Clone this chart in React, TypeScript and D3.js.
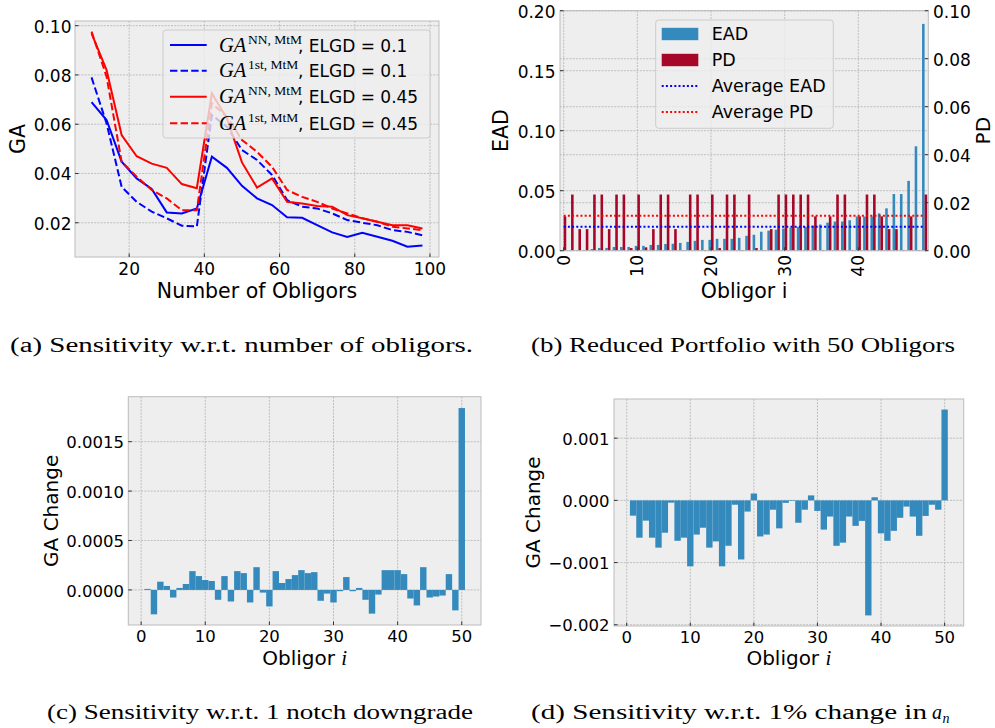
import React from "react";
import * as d3 from "d3";

// ---------- Data ----------
const obligorCounts = [10, 14, 18, 22, 26, 30, 34, 38, 42, 46, 50, 54, 58, 62, 66, 70, 74, 78, 82, 86, 90, 94, 98];
const gaNN_elgd010 = [0.069, 0.0617, 0.0448, 0.038, 0.0337, 0.0242, 0.0238, 0.0258, 0.0468, 0.0423, 0.035, 0.0299, 0.0272, 0.0222, 0.022, 0.019, 0.0161, 0.0142, 0.0159, 0.0143, 0.0127, 0.0103, 0.0108];
const ga1st_elgd010 = [0.079, 0.0603, 0.0346, 0.0285, 0.0245, 0.0218, 0.0188, 0.0185, 0.0637, 0.059, 0.0495, 0.0455, 0.0394, 0.0292, 0.0265, 0.0258, 0.0238, 0.0211, 0.02, 0.019, 0.017, 0.0163, 0.0149];
const gaNN_elgd045 = [0.0969, 0.082, 0.0556, 0.047, 0.044, 0.0423, 0.0357, 0.034, 0.0725, 0.0624, 0.0445, 0.0343, 0.038, 0.0285, 0.0278, 0.0268, 0.0265, 0.0231, 0.0218, 0.0204, 0.019, 0.019, 0.0177];
const ga1st_elgd045 = [0.0976, 0.0793, 0.0448, 0.0387, 0.0333, 0.0299, 0.0251, 0.0251, 0.0685, 0.063, 0.0536, 0.0488, 0.0427, 0.0333, 0.0305, 0.0285, 0.0258, 0.0238, 0.0218, 0.0204, 0.0184, 0.0177, 0.017];

const ead = [0.0002, 0.0003, 0.0004, 0.0006, 0.0014, 0.0023, 0.0023, 0.0031, 0.0031, 0.0031,
  0.004, 0.004, 0.0048, 0.0048, 0.0056, 0.0058, 0.0065, 0.0073, 0.0082, 0.009,
  0.009, 0.0099, 0.0099, 0.0099, 0.0107, 0.0124, 0.0133, 0.0158, 0.0167, 0.0175,
  0.0184, 0.0192, 0.0198, 0.0198, 0.0209, 0.0218, 0.0234, 0.0243, 0.0243, 0.0254,
  0.0285, 0.0285, 0.0285, 0.0311, 0.0353, 0.0472, 0.0472, 0.0582, 0.087, 0.189];
const pd = [0.0143, 0.0234, 0.009, 0.009, 0.0234, 0.0234, 0.009, 0.0234, 0.0234, 0.0011,
  0.0234, 0.0014, 0.009, 0.0234, 0.0234, 0.009, 0.0002, 0.0234, 0.0234, 0.0003,
  0.0234, 0.0011, 0.0234, 0.0234, 0.0003, 0.0234, 0.0011, 0.0002, 0.009, 0.0234,
  0.0234, 0.0234, 0.0234, 0.0234, 0.0143, 0.0003, 0.0143, 0.0234, 0.0234, 0.0003,
  0.0143, 0.0234, 0.0234, 0.0143, 0.009, 0.009, 0.0003, 0.0143, 0.0003, 0.0234];

const gaChangeDowngrade = [0.00001, -0.000247, 0.000083, 0.00004, -0.000077, 0.00002, 0.00006, 0.00019, 0.00014, 0.0001,
  0.00009, -0.0001, 0.00014, -0.000117, 0.00019, 0.00017, -0.000127, 0.00023, -0.000027, -0.000167,
  0.00019, 0.00007, 0.00011, 0.00015, 0.0002, 0.00017, 0.00018, -0.00011, -0.000037, -0.000127,
  -0.000013, 0.00013, -0.000013, 0.00002, -0.0001, -0.00024, -0.000047, 0.0002, 0.0002, 0.0002,
  0.00016, -0.000087, -0.000157, 0.00023, -0.000077, -0.000067, -0.000057, 0.00016, -0.000207, 0.00184];
const gaChangeA = [-0.000246, -0.0006, -0.000326, -0.0006, -0.00076, -0.00052, -0.000037, -0.00065, -0.0006, -0.00106,
  -0.00055, -0.00044, -0.00076, -0.00066, -0.00106, -0.00073, -0.00007, -0.00095, -0.00018, 0.00011,
  -0.00058, -0.00055, -0.00015, -0.00045, -0.00004, -0.00001, -0.00036, -0.00015, 0.00008, -0.00017,
  -0.00047, -0.00026, -0.00073, -0.00068, -0.00026, -0.00041, -0.00033, -0.00185, 0.00005, -0.00053,
  -0.00065, -0.00049, -0.00028, -0.0001, -0.00026, -0.00057, -0.00025, -0.00007, -0.00015, 0.00146];

const ticksA_x = [20, 40, 60, 80, 100];
const ticksA_y = [0.02, 0.04, 0.06, 0.08, 0.1];
const ticksB_x = [0, 10, 20, 30, 40];
const ticksB_yL = [0, 0.05, 0.1, 0.15, 0.2];
const ticksB_yR = [0, 0.02, 0.04, 0.06, 0.08, 0.1];
const ticksCD_x = [0, 10, 20, 30, 40, 50];
const ticksC_y = [0, 0.0005, 0.001, 0.0015];
const ticksD_y = [-0.002, -0.001, 0, 0.001];

// ---------- Style ----------
const FONT = "DejaVu Sans";
const SERIF = "Liberation Serif";
const BG = "#eeeeee";
const GRID = "#b2b2b2";
const EDGE = "#bcbcbc";
const BLUE_BAR = "#348ABD";
const RED_BAR = "#A60628";

function Frame({ l, r, t, b }: any) {
  return <rect x={l} y={t} width={r - l} height={b - t} fill="none" stroke={EDGE} strokeWidth={1} />;
}
function Bg({ l, r, t, b }: any) {
  return <rect x={l} y={t} width={r - l} height={b - t} fill={BG} />;
}
function GridV({ xs, t, b }: any) {
  return <g>{xs.map((x: number, i: number) => <line key={i} x1={x} x2={x} y1={t} y2={b} stroke={GRID} strokeWidth={0.8} strokeDasharray="2,1.2" />)}</g>;
}
function GridH({ ys, l, r }: any) {
  return <g>{ys.map((y: number, i: number) => <line key={i} x1={l} x2={r} y1={y} y2={y} stroke={GRID} strokeWidth={0.8} strokeDasharray="2,1.2" />)}</g>;
}

// ---------- Panel A ----------
function PanelA() {
  const L = 75, R = 439, T = 21, B = 257;
  const x = d3.scaleLinear().domain([5.6, 102.4]).range([L, R]);
  const y = d3.scaleLinear().domain([0.0061, 0.1019]).range([B, T]);
  const series = [
    { data: gaNN_elgd010, color: "#0000ff", dash: undefined, sup: "NN, MtM", elgd: "0.1" },
    { data: ga1st_elgd010, color: "#0000ff", dash: "7.4,3.2", sup: "1st, MtM", elgd: "0.1" },
    { data: gaNN_elgd045, color: "#ff0000", dash: undefined, sup: "NN, MtM", elgd: "0.45" },
    { data: ga1st_elgd045, color: "#ff0000", dash: "7.4,3.2", sup: "1st, MtM", elgd: "0.45" },
  ];
  const line = d3.line<number>().x((_, i) => x(obligorCounts[i])).y((v) => y(v));
  const rows = [45, 70.7, 96.7, 123.3];
  return (
    <g>
      <clipPath id="clipA"><rect x={L} y={T} width={R - L} height={B - T} /></clipPath>
      <Bg l={L} r={R} t={T} b={B} />
      <GridV xs={ticksA_x.map((v) => x(v))} t={T} b={B} />
      <GridH ys={ticksA_y.map((v) => y(v))} l={L} r={R} />
      <g clipPath="url(#clipA)">
        {series.map((s, i) => (
          <path key={i} d={line(s.data) || ""} fill="none" stroke={s.color} strokeWidth={2} strokeDasharray={s.dash} />
        ))}
      </g>
      <Frame l={L} r={R} t={T} b={B} />
      {ticksA_x.map((v, i) => (
        <g key={i}>
          <line x1={x(v)} x2={x(v)} y1={B} y2={B - 3.5} stroke="#333" />
          <text x={x(v)} y={275} textAnchor="middle" fontFamily={FONT} fontSize={17}>{v}</text>
        </g>
      ))}
      {ticksA_y.map((v, i) => (
        <g key={i}>
          <line x1={L} x2={L + 3.5} y1={y(v)} y2={y(v)} stroke="#333" />
          <text x={71.5} y={y(v) + 7} textAnchor="end" fontFamily={FONT} fontSize={17}>{v.toFixed(2)}</text>
        </g>
      ))}
      <text x={(L + R) / 2} y={297.5} textAnchor="middle" fontFamily={FONT} fontSize={20.5}>Number of Obligors</text>
      <text transform={`translate(25,${(T + B) / 2}) rotate(-90)`} textAnchor="middle" fontFamily={FONT} fontSize={20.5}>GA</text>
      <rect x={163} y={30} width={267} height={108} rx={3} fill={BG} fillOpacity={0.8} stroke="#cccccc" strokeWidth={1} />
      {series.map((s, i) => (
        <g key={i}>
          <line x1={170} x2={206.7} y1={rows[i]} y2={rows[i]} stroke={s.color} strokeWidth={2} strokeDasharray={s.dash} />
          <text y={rows[i] + 6.5}>
            <tspan x={219} fontFamily={SERIF} fontStyle="italic" fontSize={20.5}>GA</tspan>
            <tspan x={248} y={rows[i] - 1.5} fontFamily={SERIF} fontSize={13.5}>{s.sup}</tspan>
            <tspan x={298} y={rows[i] + 6.5} fontFamily={FONT} fontSize={17}>{`, ELGD = ${s.elgd}`}</tspan>
          </text>
        </g>
      ))}
    </g>
  );
}

// ---------- Panel B ----------
function PanelB() {
  const L = 560, R = 928.3, T = 10.7, B = 250.7;
  const x = d3.scaleLinear().domain([-0.5, 49.5]).range([L, R]);
  const yL = d3.scaleLinear().domain([0, 0.2]).range([B, T]);
  const yR = d3.scaleLinear().domain([0, 0.1]).range([B, T]);
  const w = 0.35;
  const avgEad = d3.mean(ead) as number;
  const avgPd = d3.mean(pd) as number;
  const idx = d3.range(ead.length);
  const rows = [34, 60, 86, 112];
  return (
    <g>
      <clipPath id="clipB"><rect x={L} y={T} width={R - L} height={B - T} /></clipPath>
      <Bg l={L} r={R} t={T} b={B} />
      <GridV xs={ticksB_x.map((v) => x(v))} t={T} b={B} />
      <GridH ys={ticksB_yL.map((v) => yL(v))} l={L} r={R} />
      <GridH ys={ticksB_yR.map((v) => yR(v))} l={L} r={R} />
      <g clipPath="url(#clipB)">
        {idx.map((i) => (
          <rect key={"e" + i} x={x(i - w)} width={x(i) - x(i - w)} y={yL(ead[i])} height={yL(0) - yL(ead[i])} fill={BLUE_BAR} />
        ))}
        {idx.map((i) => (
          <rect key={"p" + i} x={x(i)} width={x(i + w) - x(i)} y={yR(pd[i])} height={yR(0) - yR(pd[i])} fill={RED_BAR} />
        ))}
        <line x1={x(0)} x2={x(49)} y1={yL(avgEad)} y2={yL(avgEad)} stroke="#0000ff" strokeWidth={2} strokeDasharray="2,2.2" />
        <line x1={x(0)} x2={x(49)} y1={yR(avgPd)} y2={yR(avgPd)} stroke="#ff0000" strokeWidth={2} strokeDasharray="2,2.2" />
      </g>
      <Frame l={L} r={R} t={T} b={B} />
      {ticksB_x.map((v, i) => (
        <g key={i}>
          <line x1={x(v)} x2={x(v)} y1={B} y2={B - 3.5} stroke="#333" />
          <text transform={`translate(${x(v) + 6},255) rotate(-90)`} textAnchor="end" fontFamily={FONT} fontSize={17}>{v}</text>
        </g>
      ))}
      {ticksB_yL.map((v, i) => (
        <g key={i}>
          <line x1={L} x2={L + 3.5} y1={yL(v)} y2={yL(v)} stroke="#333" />
          <text x={555.5} y={yL(v) + 7} textAnchor="end" fontFamily={FONT} fontSize={17}>{v.toFixed(2)}</text>
        </g>
      ))}
      {ticksB_yR.map((v, i) => (
        <g key={i}>
          <line x1={R} x2={R - 3.5} y1={yR(v)} y2={yR(v)} stroke="#333" />
          <text x={933} y={yR(v) + 7} textAnchor="start" fontFamily={FONT} fontSize={17}>{v.toFixed(2)}</text>
        </g>
      ))}
      <text x={(L + R) / 2} y={297.5} textAnchor="middle" fontFamily={FONT} fontSize={20.5}>Obligor i</text>
      <text transform={`translate(508,${(T + B) / 2}) rotate(-90)`} textAnchor="middle" fontFamily={FONT} fontSize={20.5}>EAD</text>
      <text transform={`translate(989.5,${(T + B) / 2}) rotate(-90)`} textAnchor="middle" fontFamily={FONT} fontSize={20}>PD</text>
      <rect x={655.7} y={20} width={177.6} height={108.3} rx={3} fill={BG} fillOpacity={0.8} stroke="#cccccc" strokeWidth={1} />
      <rect x={661.7} y={rows[0] - 6.2} width={36.6} height={12.4} fill={BLUE_BAR} />
      <rect x={661.7} y={rows[1] - 6.2} width={36.6} height={12.4} fill={RED_BAR} />
      <line x1={661.7} x2={698.3} y1={rows[2]} y2={rows[2]} stroke="#0000ff" strokeWidth={2} strokeDasharray="2,2.2" />
      <line x1={661.7} x2={698.3} y1={rows[3]} y2={rows[3]} stroke="#ff0000" strokeWidth={2} strokeDasharray="2,2.2" />
      {["EAD", "PD", "Average EAD", "Average PD"].map((t, i) => (
        <text key={i} x={711.7} y={rows[i] + 6.3} fontFamily={FONT} fontSize={17.5}>{t}</text>
      ))}
    </g>
  );
}

// ---------- Panels C & D ----------
function ChangePanel({ L, R, T, B, yDomain, yTicks, values, fmt, labelX, tickLabelRight, id }: any) {
  const x = d3.scaleLinear().domain([-2, 53]).range([L, R]);
  const y = d3.scaleLinear().domain(yDomain).range([B, T]);
  return (
    <g>
      <clipPath id={id}><rect x={L} y={T} width={R - L} height={B - T} /></clipPath>
      <Bg l={L} r={R} t={T} b={B} />
      <GridV xs={ticksCD_x.map((v) => x(v))} t={T} b={B} />
      <GridH ys={yTicks.map((v: number) => y(v))} l={L} r={R} />
      <g clipPath={`url(#${id})`}>
        {values.map((v: number, i: number) => {
          const n = i + 1;
          return (
            <rect key={i} x={x(n - 0.5)} width={x(n + 0.5) - x(n - 0.5)} y={Math.min(y(v), y(0))} height={Math.abs(y(v) - y(0))} fill={BLUE_BAR} />
          );
        })}
      </g>
      <Frame l={L} r={R} t={T} b={B} />
      {ticksCD_x.map((v, i) => (
        <g key={i}>
          <line x1={x(v)} x2={x(v)} y1={B} y2={B - 3.5} stroke="#333" />
          <text x={x(v)} y={B + 16.5} textAnchor="middle" fontFamily={FONT} fontSize={16.5}>{v}</text>
        </g>
      ))}
      {yTicks.map((v: number, i: number) => (
        <g key={i}>
          <line x1={L} x2={L + 3.5} y1={y(v)} y2={y(v)} stroke="#333" />
          <text x={tickLabelRight} y={y(v) + 6.6} textAnchor="end" fontFamily={FONT} fontSize={16.5}>{fmt(v)}</text>
        </g>
      ))}
      <text x={(L + R) / 2} y={665} textAnchor="middle" fontFamily={FONT} fontSize={20}>
        Obligor <tspan fontFamily={SERIF} fontStyle="italic" fontSize={21}>i</tspan>
      </text>
      <text transform={`translate(${labelX},${(T + B) / 2}) rotate(-90)`} textAnchor="middle" fontFamily={FONT} fontSize={20}>GA Change</text>
    </g>
  );
}

function Captions() {
  const fs = 20;
  return (
    <g fontFamily={SERIF} fontSize={fs} fill="#000">
      <text x={10} y={352} textLength={463} lengthAdjust="spacingAndGlyphs">(a) Sensitivity w.r.t. number of obligors.</text>
      <text x={531} y={352} textLength={424} lengthAdjust="spacingAndGlyphs">(b) Reduced Portfolio with 50 Obligors</text>
      <text x={47} y={719} textLength={426} lengthAdjust="spacingAndGlyphs">(c) Sensitivity w.r.t. 1 notch downgrade</text>
      <text x={531} y={719} textLength={396} lengthAdjust="spacingAndGlyphs">(d) Sensitivity w.r.t. 1% change in</text>
      <text x={932} y={719} fontStyle="italic">a</text>
      <text x={942.5} y={723} fontStyle="italic" fontSize={14}>n</text>
    </g>
  );
}

export default function App() {
  const fmtC = (v: number) => v.toFixed(4);
  const fmtD = (v: number) => (v < 0 ? "\u2212" + Math.abs(v).toFixed(3) : v.toFixed(3));
  return (
    <svg width={995} height={728} style={{ position: "absolute", left: 0, top: 0, background: "#fff" }}>
      <PanelA />
      <PanelB />
      <ChangePanel id="clipC" L={128.3} R={481} T={396.7} B={625} yDomain={[-0.000355, 0.001955]} yTicks={ticksC_y} values={gaChangeDowngrade} fmt={fmtC} labelX={57.5} tickLabelRight={124} />
      <ChangePanel id="clipD" L={614} R={963.7} T={399} B={626} yDomain={[-0.00202, 0.00163]} yTicks={ticksD_y} values={gaChangeA} fmt={fmtD} labelX={540} tickLabelRight={609.5} />
      <Captions />
    </svg>
  );
}
